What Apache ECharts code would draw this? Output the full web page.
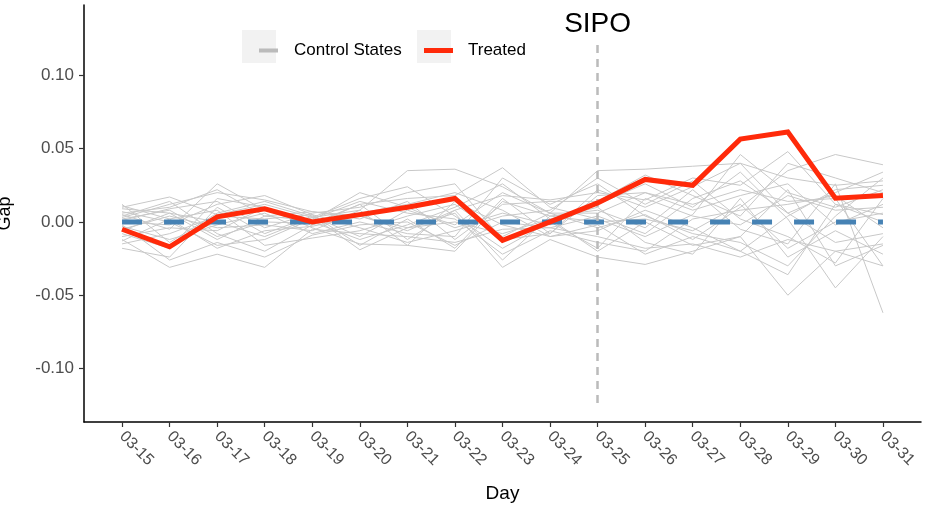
<!DOCTYPE html>
<html>
<head>
<meta charset="utf-8">
<script src="https://cdn.jsdelivr.net/npm/echarts@6/dist/echarts.min.js"></script>
<style>
  html, body { margin: 0; padding: 0; background: #fff; }
  #main { width: 930px; height: 508px; }
</style>
</head>
<body>
<div id="main"></div>
<script>
// days on the x axis
var days = ['03-15', '03-16', '03-17', '03-18', '03-19', '03-20', '03-21', '03-22', '03-23',
            '03-24', '03-25', '03-26', '03-27', '03-28', '03-29', '03-30', '03-31'];

var yTicks = [-0.10, -0.05, 0.00, 0.05, 0.10];

// treated unit gap
var treated = [-0.005, -0.017, 0.0035, 0.009, 0.0, 0.005, 0.010, 0.016, -0.0125, 0.0, 0.013,
               0.029, 0.025, 0.0565, 0.0614, 0.0162, 0.018];

// zero reference
var reference = [0, 0, 0, 0, 0, 0, 0, 0, 0, 0, 0, 0, 0, 0, 0, 0, 0];

// SIPO event (day index, lower / upper end of the dashed line)
var sipoDay = 10;
var sipoRange = [-0.1236, 0.123];

// placebo gaps for control states
var controlStates = [
  [-0.012, -0.031, -0.022, -0.031, -0.005, -0.008, -0.010, -0.014, -0.005, -0.004, -0.010, -0.018, -0.015, -0.024, -0.012, -0.020, -0.015],
  [0.010, 0.017, 0.005, 0.012, 0.003, 0.008, 0.035, 0.036, 0.024, 0.006, 0.035, 0.036, 0.038, 0.040, 0.030, 0.025, 0.028],
  [0.005, -0.005, 0.026, 0.008, -0.002, 0.012, 0.016, 0.018, 0.037, 0.010, 0.002, -0.010, 0.005, 0.046, 0.020, 0.010, 0.022],
  [-0.018, -0.024, 0.010, -0.008, 0.004, -0.019, -0.004, 0.006, -0.031, -0.012, -0.024, -0.029, -0.020, -0.010, -0.050, -0.020, -0.030],
  [0.003, 0.012, 0.020, 0.015, 0.007, 0.004, -0.006, 0.008, 0.018, 0.015, 0.020, 0.015, 0.030, 0.025, 0.048, 0.012, 0.005],
  [-0.006, 0.006, -0.012, 0.004, 0.001, 0.020, 0.010, -0.004, 0.006, -0.002, 0.012, 0.026, 0.010, 0.034, 0.002, -0.045, -0.010],
  [0.011, 0.002, 0.008, -0.016, -0.011, -0.006, 0.004, 0.012, -0.010, 0.006, -0.004, 0.005, -0.012, 0.010, 0.035, 0.046, 0.039],
  [-0.010, -0.004, -0.006, 0.010, -0.004, -0.015, -0.016, -0.020, 0.014, 0.004, 0.008, -0.004, 0.022, -0.005, -0.015, 0.026, -0.062],
  [0.001, 0.009, 0.014, -0.004, 0.006, 0.010, 0.020, 0.026, -0.012, -0.008, 0.018, 0.020, 0.008, 0.018, 0.026, -0.002, 0.012],
  [-0.003, -0.012, -0.002, 0.006, -0.008, 0.000, -0.008, -0.010, 0.030, 0.012, 0.026, 0.004, -0.008, -0.014, -0.030, 0.004, 0.030],
  [0.007, 0.000, -0.016, -0.012, 0.002, 0.014, 0.006, 0.002, -0.022, -0.006, -0.014, -0.020, 0.002, 0.008, 0.012, 0.018, -0.004],
  [-0.015, -0.008, 0.004, 0.002, 0.005, -0.004, -0.014, -0.006, 0.004, 0.008, 0.030, 0.012, 0.028, 0.002, -0.010, -0.028, 0.016],
  [0.004, 0.014, -0.008, -0.020, -0.002, 0.006, 0.012, 0.020, 0.008, -0.010, -0.006, 0.008, -0.004, -0.020, 0.004, 0.022, 0.025],
  [-0.008, -0.018, 0.016, 0.010, 0.000, -0.012, -0.002, 0.010, 0.026, 0.002, 0.010, -0.014, -0.022, 0.016, -0.024, -0.006, -0.022],
  [0.009, 0.006, 0.000, -0.010, 0.003, 0.016, 0.024, 0.004, -0.018, 0.000, -0.018, 0.016, 0.004, -0.002, 0.018, 0.008, 0.010],
  [-0.002, -0.026, -0.014, -0.024, -0.009, -0.002, 0.000, -0.016, 0.000, -0.004, 0.004, -0.008, 0.016, 0.028, 0.006, -0.014, -0.008],
  [0.006, 0.010, 0.022, 0.004, 0.007, 0.002, 0.014, -0.012, 0.012, 0.014, 0.014, 0.032, 0.018, 0.004, 0.040, 0.030, 0.020],
  [-0.005, 0.004, -0.004, -0.002, -0.006, 0.008, -0.016, 0.014, -0.002, -0.010, -0.002, -0.022, -0.010, -0.020, -0.036, 0.012, 0.000],
  [0.012, -0.014, 0.006, 0.014, 0.004, -0.010, 0.008, -0.002, 0.020, 0.006, 0.006, 0.020, 0.012, 0.022, 0.014, 0.016, -0.030],
  [-0.013, 0.002, -0.018, -0.006, -0.003, 0.004, -0.004, 0.000, -0.008, 0.002, -0.020, 0.000, -0.016, -0.010, 0.022, -0.030, -0.016],
  [0.000, -0.002, 0.012, 0.018, 0.005, -0.016, 0.002, -0.018, 0.016, -0.008, 0.022, 0.010, 0.024, 0.040, 0.006, 0.020, 0.034],
  [0.002, 0.008, -0.010, 0.000, -0.001, 0.012, -0.012, 0.008, -0.026, 0.004, 0.000, 0.002, -0.006, 0.012, -0.018, 0.000, 0.006]
];

function pairs(vals) {
    return vals.map(function (v, i) { return [i, v]; });
}

var series = controlStates.map(function (vals) {
    return {
        name: 'Control States',
        type: 'line',
        data: pairs(vals),
        symbol: 'none',
        silent: true,
        z: 2,
        lineStyle: { color: '#c8c8c8', width: 1 }
    };
});

series.push({
    name: 'ref',
    type: 'line',
    data: pairs(reference),
    symbol: 'none',
    z: 3,
    lineStyle: { color: '#4682b4', width: 5, type: [20, 22], cap: 'butt' }
});

series.push({
    name: 'sipo',
    type: 'line',
    data: [],
    z: 4,
    markLine: {
        silent: true,
        symbol: 'none',
        lineStyle: { color: '#bbbbbb', width: 2.5, type: [8, 6] },
        label: {
            show: true,
            position: 'end',
            formatter: 'SIPO',
            color: '#000',
            fontSize: 28,
            fontFamily: 'Liberation Sans',
            distance: 3
        },
        data: [[{ coord: [sipoDay, sipoRange[0]] }, { coord: [sipoDay, sipoRange[1]] }]]
    }
});

series.push({
    name: 'Treated',
    type: 'line',
    data: pairs(treated),
    symbol: 'none',
    z: 5,
    lineStyle: { color: '#ff2a0a', width: 5, join: 'miter' }
});

var option = {
    animation: false,
    textStyle: { fontFamily: 'Liberation Sans' },
    grid: { left: 84, right: 9, top: 5, bottom: 86, outerBoundsMode: 'none', containLabel: false },
    graphic: [
        { type: 'rect', z: 0, shape: { x: 242, y: 30, width: 34, height: 33 }, style: { fill: '#f2f2f2' } },
        { type: 'rect', z: 0, shape: { x: 417, y: 30, width: 34, height: 33 }, style: { fill: '#f2f2f2' } }
    ],
    legend: [{
        data: ['Control States'],
        left: 254,
        top: 37,
        icon: 'rect',
        itemWidth: 19,
        itemHeight: 4,
        itemStyle: { color: '#bbbbbb' },
        textStyle: { fontSize: 17, color: '#000', padding: [0, 0, 0, 11] }
    }, {
        data: ['Treated'],
        left: 419,
        top: 37,
        icon: 'rect',
        itemWidth: 29,
        itemHeight: 5,
        itemStyle: { color: '#ff2a0a' },
        textStyle: { fontSize: 17, color: '#000', padding: [0, 0, 0, 10] }
    }],
    xAxis: {
        type: 'value',
        min: -0.8,
        max: 16.8,
        name: 'Day',
        nameLocation: 'middle',
        nameGap: 62,
        nameTextStyle: { fontSize: 19, color: '#000' },
        splitLine: { show: false },
        axisLine: { onZero: false, lineStyle: { color: '#000', width: 1.5 } },
        axisTick: { customValues: days.map(function (d, i) { return i; }), length: 5, lineStyle: { color: '#333', width: 1.2 } },
        axisLabel: {
            customValues: days.map(function (d, i) { return i; }),
            formatter: function (v) { return days[v]; },
            rotate: -45,
            fontSize: 16,
            color: '#4d4d4d',
            margin: 12
        }
    },
    yAxis: {
        type: 'value',
        min: -0.1365,
        max: 0.148,
        name: 'Gap',
        nameLocation: 'middle',
        nameRotate: 90,
        nameGap: 70,
        nameTextStyle: { fontSize: 18, color: '#000' },
        splitLine: { show: false },
        axisLine: { show: true, onZero: false, lineStyle: { color: '#000', width: 1.5 } },
        axisTick: { show: true, customValues: yTicks, length: 5, lineStyle: { color: '#333', width: 1.2 } },
        axisLabel: {
            customValues: yTicks,
            formatter: function (v) { return v.toFixed(2); },
            fontSize: 17,
            color: '#4d4d4d',
            margin: 10
        }
    },
    series: series
};

var myChart = echarts.init(document.getElementById('main'));
myChart.setOption(option);
</script>
</body>
</html>
